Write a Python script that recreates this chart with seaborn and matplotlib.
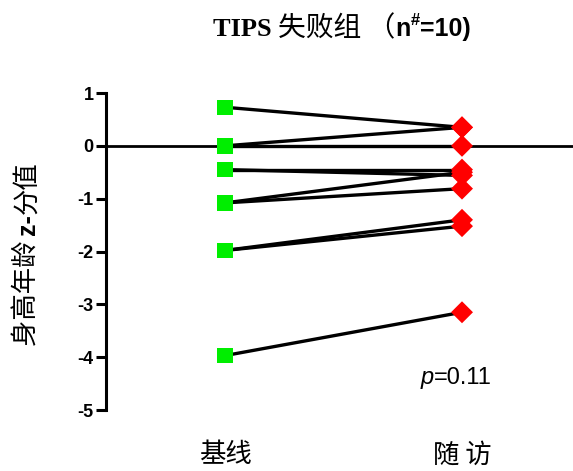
import matplotlib
matplotlib.use("Agg")
import matplotlib.pyplot as plt
import seaborn as sns
import pandas as pd
import numpy as np

# Height-for-age z-scores, paired per patient (baseline -> follow-up)
patients = list(range(1, 11))
baseline = [0.73, 0.0, 0.0, -0.45, -0.45, -1.08, -1.08, -1.98, -1.98, -3.97]
followup = [0.35, 0.35, 0.0, -0.45, -0.56, -0.50, -0.81, -1.40, -1.52, -3.15]
time_labels = ["基线", "随 访"]
y_ticks = [1, 0, -1, -2, -3, -4, -5]
p_text = "0.11"

df = pd.DataFrame({
    "patient": patients * 2,
    "time": [0] * len(patients) + [1] * len(patients),
    "z": baseline + followup,
})

sns.set_theme(style="white")
plt.rcParams["font.family"] = ["Liberation Sans", "Noto Sans CJK SC", "DejaVu Sans"]
plt.rcParams["text.color"] = "black"
plt.rcParams["ytick.color"] = "black"
plt.rcParams["ytick.labelcolor"] = "black"

W, H = 573, 471
fig = plt.figure(figsize=(W / 100, H / 100), dpi=100)
ax = fig.add_axes([106 / W, (H - 410) / H, (W - 106) / W, (410 - 93) / H])

# connecting lines for each patient
sns.lineplot(data=df, x="time", y="z", units="patient", estimator=None,
             color="black", linewidth=2.4, ax=ax, legend=False, zorder=2)
# zero reference line
ax.axhline(0, color="black", linewidth=2.0, zorder=1)
# baseline markers
sns.scatterplot(data=df[df.time == 0], x="time", y="z", marker="s", s=125,
                color="#00ee00", edgecolor="none", ax=ax, zorder=3, legend=False)
# follow-up markers
sns.scatterplot(data=df[df.time == 1], x="time", y="z", marker="D", s=125,
                color="#ff0000", edgecolor="none", ax=ax, zorder=3, legend=False)

x0, x1 = 225, 462
unit = x1 - x0
ax.set_xlim(-(x0 - 106) / unit, 1 + (W - x1) / unit)
ax.set_ylim(-5, 1)
ax.set_yticks(y_ticks)
ax.set_yticklabels([str(t) for t in y_ticks], fontsize=13, fontweight="bold",
                   family="Liberation Sans", color="black")
ax.set_xticks([])
ax.set_xlabel("")
ax.set_ylabel("")
for s in ["top", "right", "bottom"]:
    ax.spines[s].set_visible(False)
ax.spines["left"].set_linewidth(2.2)
ax.spines["left"].set_color("black")
ax.tick_params(axis="y", left=True, direction="out", length=7, width=2.2,
               color="black", labelcolor="black", pad=2)
ax.set_facecolor("none")

# category labels under the axis
for xi, lab in enumerate(time_labels):
    ax.text(xi, -5.85, lab, ha="center", va="center", fontsize=19, color="black",
            family=["Noto Sans CJK SC"], transform=ax.transData, clip_on=False)

fig.canvas.draw()
renderer = fig.canvas.get_renderer()


def row_of_text(pieces, xc, y):
    """Lay out mixed-font text pieces side by side, centred at xc (pixels)."""
    objs = []
    for txt, kw, dy in pieces:
        t = fig.text(0, 0, txt, transform=None, va="baseline", ha="left",
                     color="black", **kw)
        objs.append((t, dy))
    widths = [t.get_window_extent(renderer).width for t, _ in objs]
    cur = xc - sum(widths) / 2
    for (t, dy), w in zip(objs, widths):
        t.set_position((cur, y + dy))
        cur += w


bold_sans = dict(family="Liberation Sans", fontweight="bold", fontsize=18)
title_pieces = [
    ("TIPS ", dict(family="Liberation Serif", fontweight="bold", fontsize=19), 0),
    ("失败组 （", dict(family=["Noto Sans CJK SC"], fontsize=20), 0),
    ("n", bold_sans, 0),
    ("#", dict(family="Liberation Sans", fontweight="bold", fontsize=12), 11),
    ("=10)", bold_sans, 0),
]
row_of_text(title_pieces, 342, H - 36)

# p-value annotation
p_pieces = [
    ("p", dict(family="Liberation Sans", style="italic", fontsize=17), 0),
    ("=" + p_text, dict(family="Liberation Sans", fontsize=17), 0),
]
row_of_text(p_pieces, 456, H - 384)

# rotated y-axis label with mixed fonts
ylab_pieces = [
    ("身高年龄 ", dict(family=["Noto Sans CJK SC"], fontsize=19)),
    ("z-", dict(family="Liberation Sans", fontweight="bold", fontsize=18)),
    ("分值", dict(family=["Noto Sans CJK SC"], fontsize=19)),
]
objs = []
for txt, kw in ylab_pieces:
    t = fig.text(0, 0, txt, transform=None, rotation=90, rotation_mode="anchor",
                 ha="left", va="baseline", color="black", **kw)
    objs.append(t)
heights = [t.get_window_extent(renderer).height for t in objs]
cur = (H - 254) - sum(heights) / 2
for t, h in zip(objs, heights):
    t.set_position((35, cur))
    cur += h

fig.savefig("out.png", dpi=100)
